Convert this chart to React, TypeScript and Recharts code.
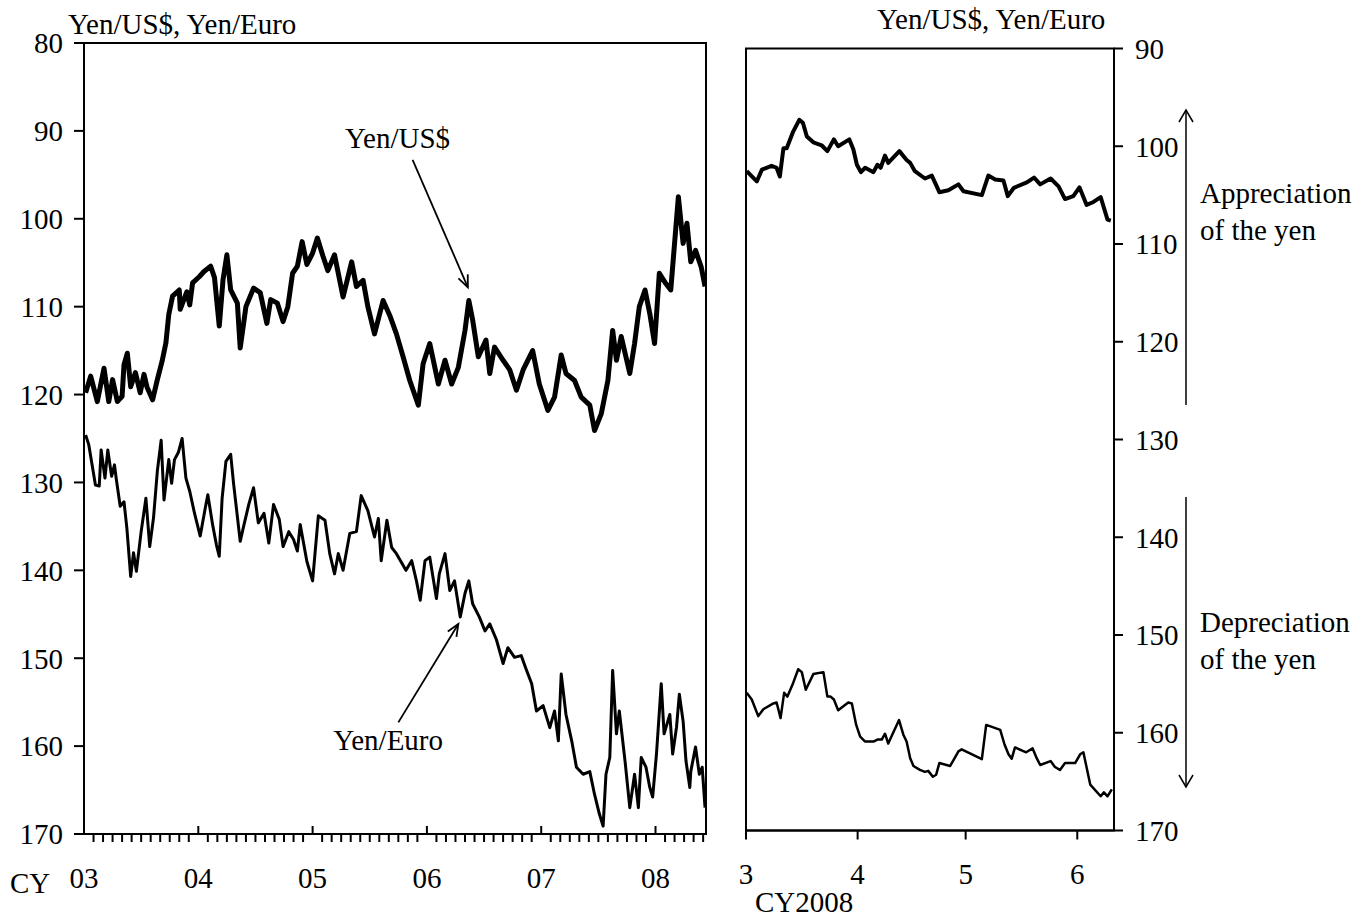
import { LineChart, Line, XAxis, YAxis, ReferenceArea, ReferenceLine } from "recharts";

// left panel: months since Jan 2003
const usdMonths = [0.17, 0.7, 1.4, 2.1, 2.6, 3.0, 3.5, 4.0, 4.2, 4.55, 4.9, 5.4, 5.9, 6.3, 6.6, 7.2, 7.7, 8.2, 8.6, 8.9, 9.3, 10.0, 10.1, 10.8, 11.1, 11.4, 12.1, 12.6, 13.3, 13.7, 14.2, 14.6, 15.0, 15.4, 16.1, 16.4, 17.0, 17.8, 18.5, 19.2, 19.6, 20.3, 20.9, 21.4, 21.9, 22.4, 22.9, 23.4, 24.0, 24.5, 25.1, 25.6, 26.3, 27.2, 28.1, 28.6, 29.3, 29.8, 30.5, 31.4, 32.1, 32.8, 33.5, 34.2, 35.1, 35.6, 36.3, 37.2, 37.9, 38.6, 39.3, 40.0, 40.4, 40.8, 41.4, 42.2, 42.6, 43.1, 44.0, 44.7, 45.4, 46.1, 47.1, 47.8, 48.7, 49.4, 50.1, 50.6, 51.5, 52.2, 53.1, 53.6, 54.3, 55.0, 55.5, 55.9, 56.4, 57.3, 57.8, 58.3, 58.9, 59.4, 59.9, 60.4, 61.1, 61.6, 62.0, 62.4, 62.9, 63.3, 63.7, 64.2, 64.8, 65.2];
const usdRates = [119.8, 117.9, 120.8, 117.0, 120.8, 118.3, 120.8, 120.2, 116.6, 115.3, 119.1, 117.5, 119.8, 117.7, 119.1, 120.6, 118.3, 116.2, 114.1, 110.9, 108.8, 108.1, 110.3, 108.3, 109.8, 107.3, 106.6, 106.0, 105.4, 106.7, 112.2, 106.9, 104.1, 108.1, 109.6, 114.7, 110.0, 107.9, 108.4, 111.9, 109.2, 109.6, 111.7, 110.0, 106.2, 105.4, 102.6, 105.2, 103.9, 102.2, 104.3, 105.9, 104.1, 108.9, 104.9, 107.7, 107.0, 110.0, 113.1, 109.3, 111.0, 113.1, 115.7, 118.4, 121.2, 116.5, 114.2, 118.8, 116.1, 118.8, 116.9, 112.7, 109.3, 111.5, 115.7, 113.8, 117.6, 114.6, 116.1, 117.2, 119.5, 117.2, 115.0, 118.8, 121.8, 120.3, 115.5, 117.6, 118.4, 120.3, 121.2, 124.1, 122.2, 118.4, 112.7, 116.1, 113.4, 117.6, 114.2, 110.0, 108.1, 110.8, 114.2, 106.2, 107.4, 108.1, 102.8, 97.5, 102.8, 100.5, 104.9, 103.6, 105.5, 107.7];

const euroMonths = [0.17, 0.5, 1.2, 1.6, 1.8, 2.2, 2.5, 2.9, 3.2, 3.4, 3.8, 4.2, 4.5, 4.9, 5.2, 5.5, 6.0, 6.5, 6.9, 7.3, 7.7, 8.1, 8.4, 8.9, 9.2, 9.5, 9.9, 10.3, 10.7, 11.1, 11.6, 12.2, 12.8, 13.0, 13.5, 13.9, 14.2, 14.5, 14.9, 15.4, 15.7, 16.4, 16.8, 17.3, 17.8, 18.3, 18.9, 19.4, 19.9, 20.5, 20.9, 21.5, 22.0, 22.4, 22.7, 23.4, 24.0, 24.6, 25.3, 25.8, 26.3, 26.7, 27.2, 27.9, 28.6, 29.1, 29.8, 30.5, 30.9, 31.2, 31.8, 32.3, 32.8, 33.8, 34.4, 34.9, 35.3, 35.8, 36.3, 37.0, 37.3, 37.9, 38.4, 38.9, 39.5, 40.0, 40.4, 40.8, 41.5, 42.1, 42.6, 43.3, 44.0, 44.5, 45.2, 45.9, 46.4, 47.0, 47.5, 48.2, 48.9, 49.4, 49.8, 50.1, 50.6, 51.2, 51.7, 52.4, 53.1, 53.6, 54.1, 54.5, 54.8, 55.2, 55.5, 55.9, 56.2, 56.8, 57.3, 57.8, 58.2, 58.5, 59.0, 59.4, 59.7, 60.1, 60.6, 60.9, 61.5, 61.8, 62.2, 62.5, 62.9, 63.2, 63.6, 63.7, 64.2, 64.6, 64.9, 65.2];
const euroRates = [124.6, 125.7, 130.3, 130.4, 126.3, 129.5, 126.3, 129.3, 128.0, 129.7, 132.7, 132.2, 135.2, 140.7, 138.0, 140.1, 135.6, 131.8, 137.3, 134.0, 128.7, 125.2, 132.0, 127.4, 130.1, 127.4, 126.6, 125.0, 129.5, 131.0, 133.5, 136.1, 132.5, 131.4, 134.8, 137.1, 138.4, 131.8, 127.6, 126.8, 130.1, 136.7, 134.8, 132.5, 130.6, 134.6, 133.5, 136.9, 132.5, 134.2, 137.3, 135.6, 136.5, 137.8, 134.8, 139.0, 141.2, 133.8, 134.3, 138.1, 140.4, 138.1, 140.0, 135.8, 135.6, 131.5, 133.2, 136.2, 134.1, 138.9, 134.3, 137.4, 138.1, 140.0, 138.9, 141.2, 143.4, 138.9, 138.5, 143.2, 140.4, 138.1, 142.3, 141.2, 145.3, 142.6, 141.2, 143.8, 145.3, 146.9, 146.1, 147.9, 150.6, 148.8, 149.9, 149.7, 151.2, 152.9, 156.0, 155.4, 157.9, 156.0, 159.4, 151.8, 156.4, 159.4, 162.4, 163.2, 162.9, 165.5, 167.7, 169.1, 163.2, 161.3, 151.4, 158.6, 156.0, 161.7, 167.0, 163.2, 167.0, 161.3, 162.4, 164.7, 165.8, 160.9, 152.9, 158.6, 156.4, 160.9, 157.9, 154.1, 157.2, 161.7, 164.7, 162.9, 160.1, 163.2, 162.4, 167.0];

// right panel: days since 1 March 2008
const usdDays = [0.2, 3.0, 4.4, 7.1, 8.5, 9.4, 10.4, 11.3, 13.1, 14.8, 15.8, 16.9, 18.7, 21.0, 22.6, 24.4, 25.6, 28.7, 29.8, 30.8, 31.9, 33.1, 35.4, 36.5, 37.4, 38.6, 39.5, 42.6, 44.6, 45.6, 46.9, 49.7, 51.6, 53.7, 56.2, 59.0, 60.4, 65.5, 67.3, 69.2, 71.5, 72.7, 74.4, 78.0, 80.0, 81.7, 84.6, 86.8, 88.6, 90.9, 92.6, 94.6, 96.5, 98.5, 100.4, 101.3];
const usdDaily = [102.55, 103.6, 102.4, 102.0, 102.2, 103.1, 100.2, 100.2, 98.5, 97.3, 97.6, 99.0, 99.6, 99.9, 100.5, 99.3, 100.0, 99.3, 100.3, 101.9, 102.65, 102.2, 102.65, 101.9, 102.2, 100.95, 101.7, 100.5, 101.4, 101.7, 102.55, 103.3, 103.0, 104.7, 104.5, 103.9, 104.6, 105.0, 103.0, 103.4, 103.5, 105.1, 104.25, 103.7, 103.2, 103.9, 103.3, 104.1, 105.4, 105.1, 104.2, 106.0, 105.7, 105.2, 107.5, 107.6];

const euroDays = [0.2, 1.6, 3.4, 4.8, 7.6, 8.5, 9.6, 10.6, 11.5, 13.1, 14.5, 15.5, 16.6, 18.7, 21.5, 22.6, 23.5, 24.4, 25.6, 28.4, 29.4, 30.6, 31.7, 33.1, 35.4, 36.5, 37.7, 38.6, 39.5, 42.5, 43.7, 44.6, 45.6, 46.5, 48.3, 49.7, 50.6, 51.9, 52.8, 53.7, 56.7, 59.0, 59.9, 65.5, 66.7, 68.3, 70.6, 71.8, 72.9, 73.8, 74.7, 77.8, 79.6, 80.8, 81.7, 84.6, 85.8, 87.2, 88.6, 91.4, 92.8, 93.7, 95.6, 98.5, 99.4, 100.4, 101.6];
const euroDaily = [155.9, 156.6, 158.3, 157.6, 157.0, 156.9, 158.5, 155.9, 156.3, 154.9, 153.5, 153.8, 155.6, 154.0, 153.8, 156.3, 156.3, 156.6, 157.7, 156.9, 157.0, 159.2, 160.4, 160.9, 160.9, 160.7, 160.7, 160.1, 161.1, 158.7, 160.2, 160.9, 162.6, 163.4, 163.8, 164.0, 163.9, 164.5, 164.3, 163.1, 163.4, 161.9, 161.7, 162.7, 159.2, 159.4, 159.7, 161.2, 162.2, 162.65, 161.5, 162.0, 161.6, 162.65, 163.3, 162.9, 163.5, 163.8, 163.1, 163.1, 162.2, 162.0, 165.3, 166.5, 166.1, 166.5, 165.8];

const yearLabels = ["03", "04", "05", "06", "07", "08"];
const leftTicks = [80, 90, 100, 110, 120, 130, 140, 150, 160, 170];
const rightTicks = [90, 100, 110, 120, 130, 140, 150, 160, 170];
const monthStarts = [0, 31, 61, 92];
const monthLabels = ["3", "4", "5", "6"];

const FONT = "'Liberation Serif', 'Times New Roman', serif";
const FS = 29;
const LEFT_END = 65.3;
const RIGHT_END = 102.2;

const zip = (t: number[], v: number[]) => t.map((x, i) => ({ t: x, v: v[i] }));
const usdLeft = zip(usdMonths, usdRates);
const euroLeft = zip(euroMonths, euroRates);
const usdRight = zip(usdDays, usdDaily);
const euroRight = zip(euroDays, euroDaily);

const allMonths = Array.from({ length: 66 }, (_, i) => i);

const axisStyle = { stroke: "#000", strokeWidth: 2 };
const tickText = { fill: "#000", fontSize: FS, fontFamily: FONT };

function YearTick(props: any) {
  const { x, y, payload } = props;
  const m = payload.value as number;
  if (m % 12 === 0) {
    return (
      <g>
        <line x1={x} x2={x} y1={y} y2={y - 8} stroke="#000" strokeWidth={2} />
        <text x={x} y={y + 54} textAnchor="middle" fontFamily={FONT} fontSize={FS} fill="#000">
          {yearLabels[m / 12]}
        </text>
      </g>
    );
  }
  return <line x1={x} x2={x} y1={y} y2={y + 8} stroke="#000" strokeWidth={2} />;
}

function Arrow(props: any) {
  const { x1, y1, x2, y2 } = props;
  const a = Math.atan2(y2 - y1, x2 - x1);
  const len = 13;
  const spread = 0.4;
  const h1x = x2 - len * Math.cos(a - spread);
  const h1y = y2 - len * Math.sin(a - spread);
  const h2x = x2 - len * Math.cos(a + spread);
  const h2y = y2 - len * Math.sin(a + spread);
  return (
    <g>
      <line x1={x1} y1={y1} x2={x2} y2={y2} stroke="#000" strokeWidth={1.8} />
      <polyline points={`${h1x},${h1y} ${x2},${y2} ${h2x},${h2y}`} fill="none" stroke="#000" strokeWidth={1.8} />
    </g>
  );
}

export default function App() {
  return (
    <div style={{ position: "absolute", left: 0, top: 0, width: 1356, height: 921, background: "#fff" }}>
      <div style={{ position: "absolute", left: 0, top: 0 }}>
        <LineChart width={720} height={921} margin={{ top: 43, right: 14, bottom: 27, left: 0 }}>
          <XAxis
            dataKey="t"
            type="number"
            domain={[0, LEFT_END]}
            ticks={allMonths}
            interval={0}
            tickSize={0}
            tickMargin={0}
            tickLine={false}
            tick={<YearTick />}
            axisLine={axisStyle}
            height={60}
            allowDataOverflow
          />
          <YAxis
            type="number"
            reversed
            domain={[80, 170]}
            ticks={leftTicks}
            interval={0}
            width={84}
            tickSize={10}
            tickMargin={11}
            tick={tickText}
            tickLine={axisStyle}
            axisLine={axisStyle}
          />
          <ReferenceArea x1={0} x2={LEFT_END} y1={80} y2={170} fill="none" stroke="#000" strokeWidth={2} ifOverflow="visible" />
          <Line data={usdLeft} dataKey="v" stroke="#000" strokeWidth={5} dot={false} isAnimationActive={false} strokeLinejoin="round" />
          <Line data={euroLeft} dataKey="v" stroke="#000" strokeWidth={3} dot={false} isAnimationActive={false} strokeLinejoin="round" />
          <ReferenceLine segment={[{ x: 34.5, y: 93.3 }, { x: 40.3, y: 107.8 }]} shape={<Arrow />} ifOverflow="visible" />
          <ReferenceLine segment={[{ x: 33.0, y: 157.3 }, { x: 39.3, y: 146.1 }]} shape={<Arrow />} ifOverflow="visible" />
        </LineChart>
      </div>
      <div style={{ position: "absolute", left: 720, top: 0 }}>
        <LineChart width={636} height={921} margin={{ top: 48.5, right: 182, bottom: 30.5, left: 26 }}>
          <XAxis
            dataKey="t"
            type="number"
            domain={[0, RIGHT_END]}
            ticks={monthStarts}
            interval={0}
            tickFormatter={(v: number) => monthLabels[monthStarts.indexOf(v)]}
            tickSize={9}
            tickMargin={24}
            tick={tickText}
            tickLine={axisStyle}
            axisLine={axisStyle}
            height={60}
          />
          <YAxis
            type="number"
            orientation="right"
            reversed
            domain={[90, 170]}
            ticks={rightTicks}
            interval={0}
            width={60}
            tickSize={9}
            tickMargin={12}
            tick={{ ...tickText, textAnchor: "start" }}
            tickLine={axisStyle}
            axisLine={axisStyle}
          />
          <ReferenceArea x1={0} x2={RIGHT_END} y1={90} y2={170} fill="none" stroke="#000" strokeWidth={2} ifOverflow="visible" />
          <Line data={usdRight} dataKey="v" stroke="#000" strokeWidth={4} dot={false} isAnimationActive={false} strokeLinejoin="round" />
          <Line data={euroRight} dataKey="v" stroke="#000" strokeWidth={2.5} dot={false} isAnimationActive={false} strokeLinejoin="round" />
        </LineChart>
      </div>
      <svg width={1356} height={921} style={{ position: "absolute", left: 0, top: 0, pointerEvents: "none" }}>
        <g fontFamily={FONT} fontSize={FS} fill="#000">
          <text x={68} y={34}>Yen/US$, Yen/Euro</text>
          <text x={877} y={29}>Yen/US$, Yen/Euro</text>
          <text x={345} y={148}>Yen/US$</text>
          <text x={443} y={750} textAnchor="end">Yen/Euro</text>
          <text x={10} y={893}>CY</text>
          <text x={755} y={912}>CY2008</text>
          <text x={1200} y={203}>Appreciation</text>
          <text x={1200} y={240}>of the yen</text>
          <text x={1200} y={632}>Depreciation</text>
          <text x={1200} y={669}>of the yen</text>
        </g>
        <g stroke="#000" strokeWidth={1.5} fill="none">
          <line x1={1186} y1={405} x2={1186} y2={110} />
          <polyline points="1179,122 1186,110 1193,122" />
          <line x1={1186} y1={497} x2={1186} y2={787} />
          <polyline points="1179,775 1186,787 1193,775" />
        </g>
      </svg>
    </div>
  );
}
